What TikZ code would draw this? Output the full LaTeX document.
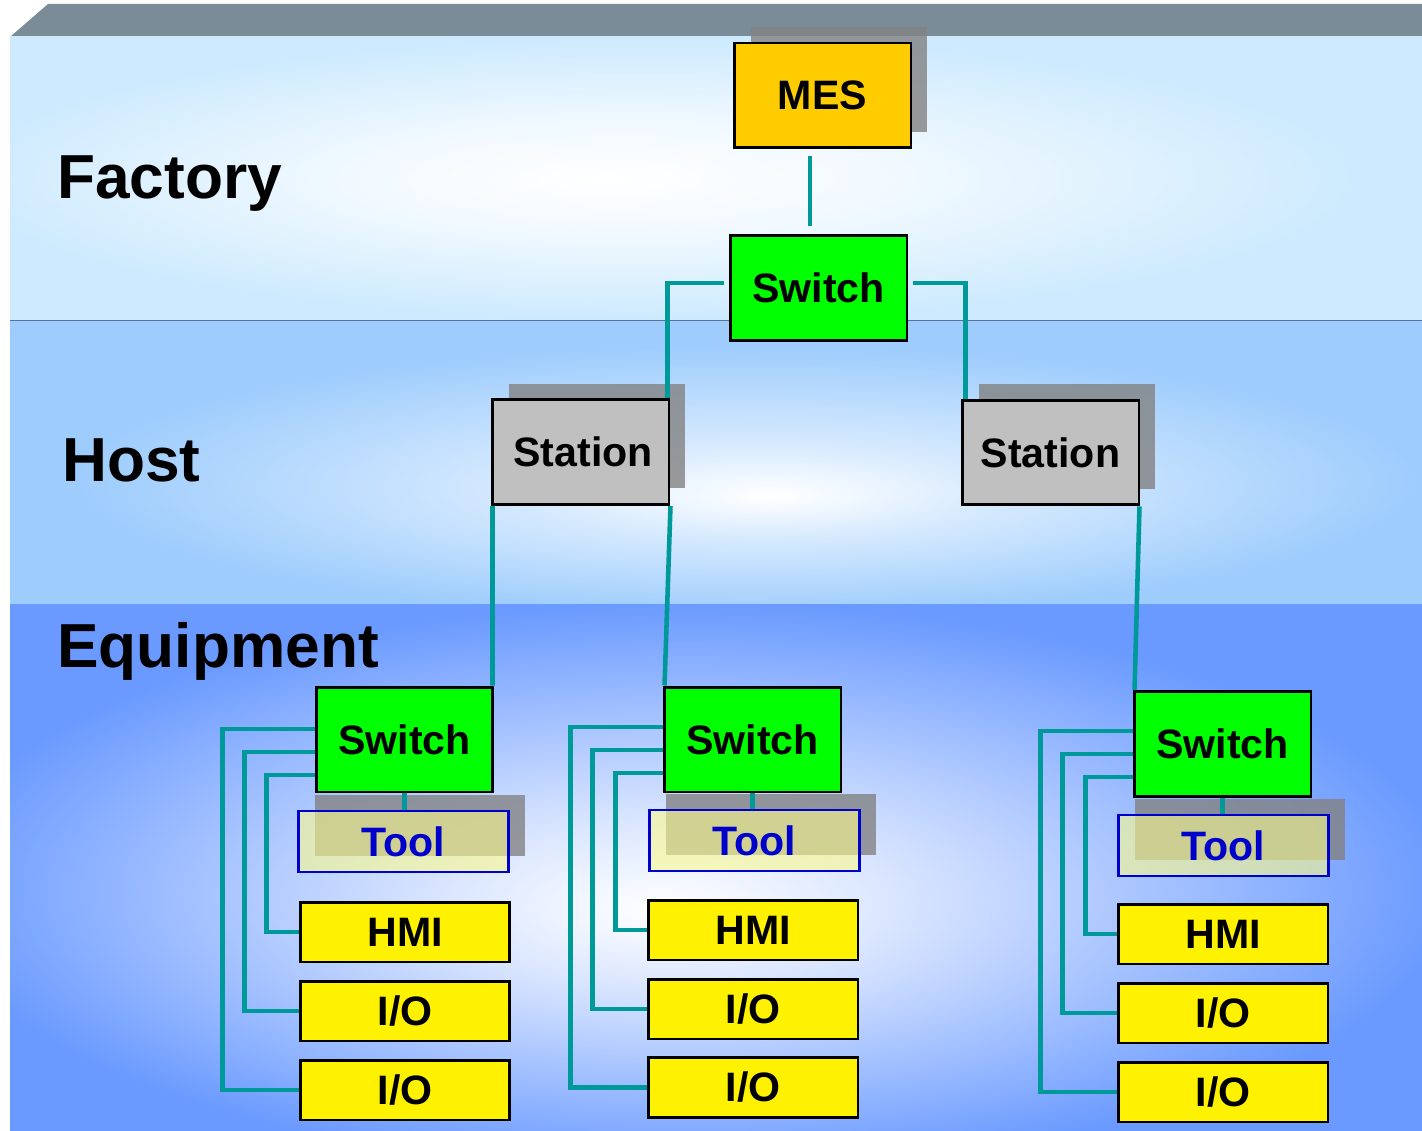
\documentclass[tikz,border=0pt]{standalone}
\usepackage{fontspec}
\setmainfont{Liberation Sans}
\usetikzlibrary{positioning,calc,shadows}
\definecolor{BarGray}{RGB}{122,140,152}
\definecolor{BandLine}{RGB}{90,112,144}
\definecolor{FactoryBlue}{RGB}{205,234,254}
\definecolor{HostBlue}{RGB}{157,204,253}
\definecolor{EquipBlue}{RGB}{106,154,255}
\definecolor{LinkTeal}{RGB}{0,153,153}
\definecolor{MesGold}{RGB}{255,204,0}
\definecolor{SwitchGreen}{RGB}{0,255,0}
\definecolor{StationGray}{RGB}{192,192,192}
\definecolor{ToolBlue}{RGB}{0,0,204}
\definecolor{ToolFill}{RGB}{250,250,140}
\definecolor{ShadowGray}{RGB}{130,130,130}
\pgfdeclareradialshading{factoryglow}{\pgfpoint{-4bp}{0bp}}{color(0bp)=(white);
  color(9bp)=(white!75!FactoryBlue); color(25bp)=(FactoryBlue); color(50bp)=(FactoryBlue)}
\pgfdeclareradialshading{hostglow}{\pgfpoint{2bp}{-6bp}}{color(0bp)=(white);
  color(8bp)=(white!60!HostBlue); color(24bp)=(HostBlue); color(50bp)=(HostBlue)}
\pgfdeclareradialshading{equipglow}{\pgfpoint{-2bp}{-4bp}}{color(0bp)=(white);
  color(8bp)=(white!75!EquipBlue); color(27bp)=(EquipBlue); color(50bp)=(EquipBlue)}
\tikzset{
  box/.style={draw=black,line width=1.7pt,inner sep=0pt,
    font=\fontsize{23.4}{26}\selectfont\bfseries},
  big/.style={box,minimum width=3.54cm,minimum height=2.1cm},
  small/.style={box,minimum width=4.2cm,minimum height=1.2cm,fill=yellow},
  drop/.style={general shadow={draw=none,fill=ShadowGray,fill opacity=0.8,
    shadow xshift=0.33cm,shadow yshift=0.32cm}},
  mesbox/.style={big,fill=MesGold,drop},
  switchbox/.style={big,fill=SwitchGreen},
  stationbox/.style={big,fill=StationGray,drop},
  toolbox/.style={small,draw=ToolBlue,line width=1.4pt,fill=ToolFill,
    fill opacity=0.6,text opacity=1,text=ToolBlue,minimum height=1.22cm,drop},
  link/.style={draw=LinkTeal,line width=2.6pt},
  level/.style={anchor=base west,inner sep=0pt,
    font=\fontsize{35.4}{40}\selectfont\bfseries},
}

\begin{document}
\begin{tikzpicture}[x=0.02cm,y=-0.02cm]
\useasboundingbox (0,0) rectangle (1422,1131);
\fill[white] (0,0) rectangle (1422,1131);
\fill[BarGray] (10,37) -- (48,4) -- (1422,4) -- (1422,37) -- cycle;
\shade[shading=factoryglow] (10,37) rectangle (1422,320);
\shade[shading=hostglow] (10,321) rectangle (1422,604);
\shade[shading=equipglow] (10,604) rectangle (1422,1131);
\draw[BandLine,line width=0.6pt] (10,320.5) -- (1422,320.5);

\node[level] (factory) at (57,199) {Factory};
\node[level] (host) at (62,481) {Host};
\node[level] (equipment) at (57,667) {Equipment};

\node[mesbox] (mes) at (822.5,95.5) {MES};
\node[switchbox] (swTop) at (818.5,288) {Switch};
\node[stationbox] (stL) at (580.5,452) {\hspace{0.1cm}Station};
\node[stationbox] (stR) at (1050.5,452.5) {Station};

\node[switchbox] (sw1) at (404.5,739.5) {Switch};
\node[switchbox] (sw2) at (752.5,739.5) {Switch};
\node[switchbox] (sw3) at (1222.5,744) {Switch};
\node[toolbox] (tool1) at (403.5,841.5) {Tool};
\node[toolbox] (tool2) at (754.5,840.5) {Tool};
\node[toolbox] (tool3) at (1223.5,845.5) {Tool};
\node[small] (hmi1) at (405,932) {HMI};
\node[small] (io1a) at (405,1011) {I/O};
\node[small] (io1b) at (405,1090) {I/O};
\node[small] (hmi2) at (753,930) {HMI};
\node[small] (io2a) at (753,1009) {I/O};
\node[small] (io2b) at (753,1087.5) {I/O};
\node[small] (hmi3) at (1223,934) {HMI};
\node[small] (io3a) at (1223,1013) {I/O};
\node[small] (io3b) at (1223,1092) {I/O};

\draw[link] ([xshift=-0.25cm,yshift=-0.14cm]mes.south) -- ([xshift=-0.25cm,yshift=0.16cm]mes.south |- swTop.north);
\draw[link] ([xshift=-0.1cm,yshift=0.1cm]swTop.west) -| ([xshift=-0.06cm]stL.north east);
\draw[link] ([xshift=0.1cm,yshift=0.1cm]swTop.east) -| ([xshift=0.1cm]stR.north west);
\draw[link] ([xshift=0.04cm]stL.south west) -- ([xshift=-0.04cm]sw1.north east);
\draw[link] (stL.south east) -- ([xshift=0.04cm]sw2.north west);
\draw[link] ([xshift=-0.02cm]stR.south east) -- ([xshift=0.04cm]sw3.north west);

\draw[link] (sw1.south) -- (sw1.south |- tool1.north);
\draw[link] (sw2.south) -- (sw2.south |- tool2.north);
\draw[link] (sw3.south) -- (sw3.south |- tool3.north);

\draw[link] ([yshift=0.21cm]sw1.west) -- ++(-92,0) |- (io1b.west);
\draw[link] ([yshift=-0.25cm]sw1.west) -- ++(-70,0) |- (io1a.west);
\draw[link] ([yshift=-0.71cm]sw1.west) -- ++(-48,0) |- (hmi1.west);
\draw[link] ([yshift=0.25cm]sw2.west) -- ++(-92,0) |- (io2b.west);
\draw[link] ([yshift=-0.21cm]sw2.west) -- ++(-70,0) |- (io2a.west);
\draw[link] ([yshift=-0.67cm]sw2.west) -- ++(-47,0) |- (hmi2.west);
\draw[link] ([yshift=0.26cm]sw3.west) -- ++(-92,0) |- (io3b.west);
\draw[link] ([yshift=-0.2cm]sw3.west) -- ++(-70,0) |- (io3a.west);
\draw[link] ([yshift=-0.66cm]sw3.west) -- ++(-47,0) |- (hmi3.west);
\end{tikzpicture}
\end{document}
